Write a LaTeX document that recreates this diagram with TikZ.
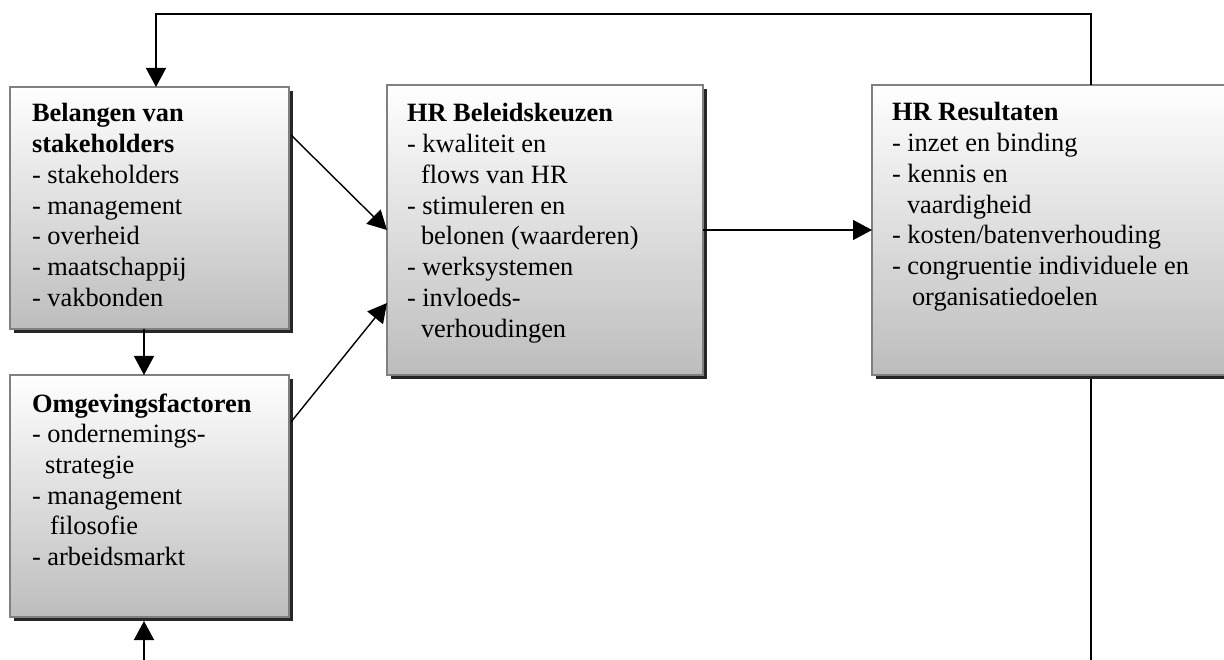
\documentclass[tikz,border=0pt]{standalone}
\usepackage{fontspec}
\setmainfont{Liberation Serif}
\usetikzlibrary{arrows.meta,shadows,calc}

\tikzset{
  panel/.style={draw=black!50, line width=1.5pt, inner sep=0pt, outer sep=0pt,
    anchor=north west, top color=white, bottom color=black!26,
    drop shadow={shadow xshift=4pt, shadow yshift=-4pt, fill=black!85, opacity=1}},
  label/.style={anchor=base west, inner sep=0pt, outer sep=0pt, align=left},
  link/.style={draw=black, line width=1.4pt},
  arr/.style={link, -{Triangle[length=19pt,width=20pt]}}
}
\newcommand{\boxtext}[1]{\parbox[t]{330pt}{\raggedright\fontsize{26.4}{30.75}\selectfont #1}}

\begin{document}
\begin{tikzpicture}[x=1pt,y=-1pt]
\useasboundingbox (0,0) rectangle (1224,660);

% boxes
\node[panel, minimum width=279pt, minimum height=242pt] (b1) at (10,87) {};
\node[panel, minimum width=279pt, minimum height=242pt] (b2) at (10,375) {};
\node[panel, minimum width=316pt, minimum height=290pt] (b3) at (387,85) {};
\node[panel, minimum width=356pt, minimum height=290pt] (b4) at (872,85) {};

% box texts
\node[label] (t1) at ($(b1.north west)+(22,35)$) {\boxtext{\textbf{Belangen van}\\
\textbf{stakeholders}\\
- stakeholders\\
- management\\
- overheid\\
- maatschappij\\
- vakbonden}};
\node[label] (t2) at ($(b2.north west)+(22,37)$) {\boxtext{\textbf{Omgevingsfactoren}\\
- ondernemings-\\
\hspace*{13pt}strategie\\
- management\\
\hspace*{18pt}filosofie\\
- arbeidsmarkt}};
\node[label] (t3) at ($(b3.north west)+(20,37)$) {\boxtext{\textbf{HR Beleidskeuzen}\\
- kwaliteit en\\
\hspace*{14pt}flows van HR\\
- stimuleren en\\
\hspace*{14pt}belonen (waarderen)\\
- werksystemen\\
- invloeds-\\
\hspace*{14pt}verhoudingen}};
\node[label] (t4) at ($(b4.north west)+(20,36)$) {\boxtext{\textbf{HR Resultaten}\\
- inzet en binding\\
- kennis en\\
\hspace*{15pt}vaardigheid\\
- kosten/batenverhouding\\
- congruentie individuele en\\
\hspace*{20pt}organisatiedoelen}};

% free ends and corners of the feedback loop
\coordinate (fbR) at (1091,14);
\coordinate (fbL) at (156,14);
\coordinate (outB) at (1091,660);
\coordinate (inB) at (144,660);

% connectors
\draw[arr] ($(b1.north east)+(2,48)$) -- (b3.west);
\draw[arr] ($(b2.north east)+(2,47)$) -- ($(b3.north west)+(0,218)$);
\draw[arr] (b3.east) -- (b4.west);
\draw[arr] ($(b1.south west)+(134,0)$) -- ($(b2.north west)+(134,0)$);
\draw[arr] ($(b4.north west)+(219,0)$) -- (fbR) -- (fbL) -- ($(b1.north west)+(146,0)$);
\draw[link] ($(b4.south west)+(219,4)$) -- (outB);
\draw[arr] (inB) -- ($(b2.south west)+(134,4)$);
\end{tikzpicture}
\end{document}
